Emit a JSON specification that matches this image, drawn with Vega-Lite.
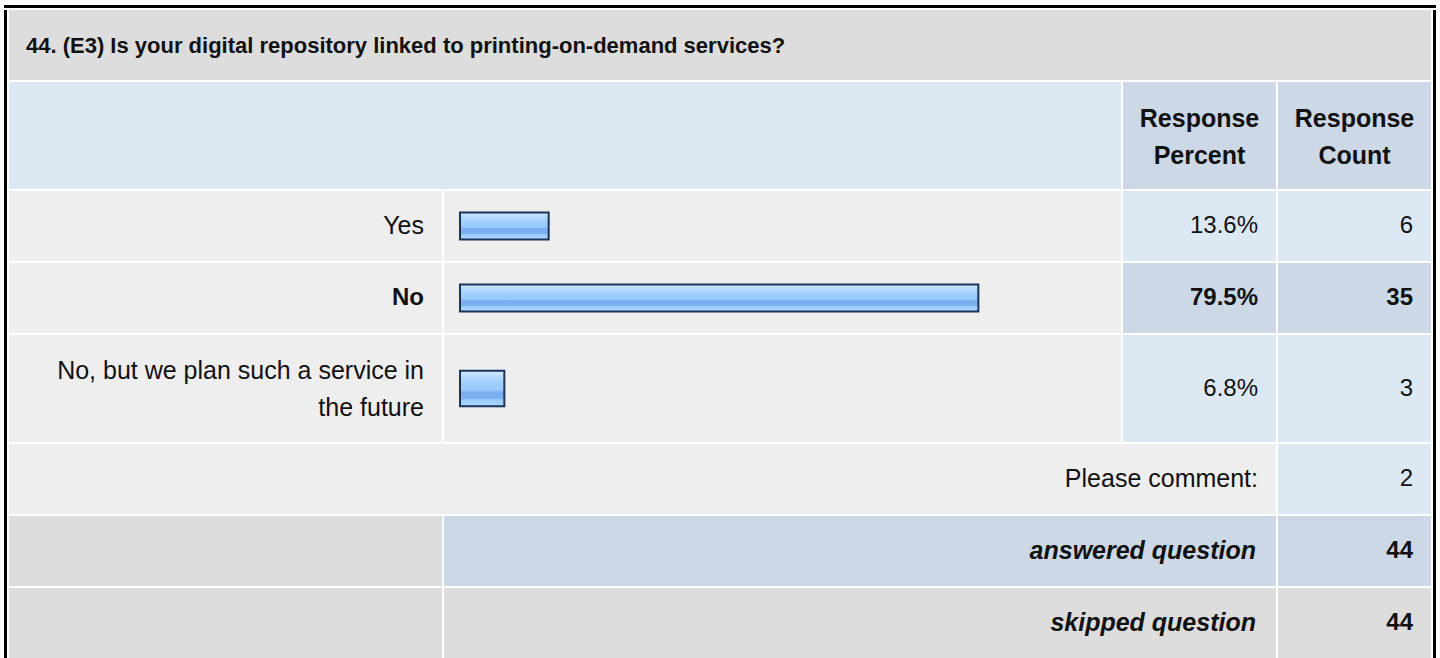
{
"$schema": "https://vega.github.io/schema/vega-lite/v6.json",
"background": "white",
"padding": {"left": 4, "top": 5, "right": 0, "bottom": 0},
"bounds": "flush",
"spacing": 2,
"config": {"view": {"stroke": null}, "concat": {"spacing": 2}, "text": {"font": "Liberation Sans", "fontSize": 24, "color": "#111111", "lineBreak": "\n", "lineHeight": 37}},
"datasets": {
 "question": [{"title": "44. (E3) Is your digital repository linked to printing-on-demand services?"}],
 "columns": [{"column": "Response\nPercent"}, {"column": "Response\nCount"}],
 "answers": [
  {"answer": "Yes", "share": 0.136, "count": 6},
  {"answer": "No", "share": 0.795, "count": 35},
  {"answer": "No, but we plan such a service in\nthe future", "share": 0.068, "count": 3}
 ],
 "summary": [
  {"item": "Please comment:", "count": 2},
  {"item": "answered question", "count": 44},
  {"item": "skipped question", "count": 44}
 ]
},
"vconcat": [
 {"width": 1432, "height": 3, "view": {"fill": "#000000"}, "data": {"values": [{}]}, "mark": {"type": "text", "fontSize": 1, "lineHeight": 1}, "encoding": {"text": {"value": ""}}},
 {"spacing": 2, "hconcat": [
  {"width": 3, "height": 648, "view": {"fill": "#000000"}, "data": {"values": [{}]}, "mark": {"type": "text", "fontSize": 1, "lineHeight": 1}, "encoding": {"text": {"value": ""}}},
  {"spacing": 2, "vconcat": [
   {"width": 1422, "height": 70, "view": {"fill": "#dddddd"}, "data": {"name": "question"},
    "mark": {"type": "text", "align": "left", "baseline": "middle", "dx": 17, "dy": 1, "fontWeight": "bold", "fontSize": 22},
    "encoding": {"x": {"value": 0}, "text": {"field": "title"}}},
   {"spacing": 2, "hconcat": [
    {"width": 1112, "height": 107, "view": {"fill": "#dde8f5"}, "data": {"values": [{}]}, "mark": {"type": "text", "fontSize": 1, "lineHeight": 1}, "encoding": {"text": {"value": ""}}},
    {"width": 153, "height": 107, "view": {"fill": "#ccd8e6"}, "data": {"name": "columns"}, "transform": [{"filter": "indexof(datum.column, 'Percent') >= 0"}],
     "mark": {"type": "text", "align": "center", "baseline": "middle", "dy": -17, "fontWeight": "bold", "fontSize": 25}, "encoding": {"text": {"field": "column"}}},
    {"width": 153, "height": 107, "view": {"fill": "#ccd8e6"}, "data": {"name": "columns"}, "transform": [{"filter": "indexof(datum.column, 'Count') >= 0"}],
     "mark": {"type": "text", "align": "center", "baseline": "middle", "dy": -17, "fontWeight": "bold", "fontSize": 25}, "encoding": {"text": {"field": "column"}}}
   ]},
   {"spacing": 2, "hconcat": [
    {"width": 433, "height": 70, "view": {"fill": "#eeeeee"}, "data": {"name": "answers"}, "transform": [{"filter": "datum.answer === 'Yes'"}],
     "mark": {"type": "text", "align": "right", "baseline": "middle", "dx": -18, "fontSize": 25}, "encoding": {"x": {"value": "width"}, "text": {"field": "answer"}}},
    {"width": 677, "height": 70, "view": {"fill": "#eeeeee"}, "data": {"name": "answers"}, "transform": [{"filter": "datum.answer === 'Yes'"}],
     "mark": {"type": "bar", "stroke": "#1b3358", "strokeWidth": 2, "fill": {"gradient": "linear", "x1": 0, "y1": 0, "x2": 0, "y2": 1, "stops": [{"offset": 0, "color": "#d4ebff"}, {"offset": 0.15, "color": "#b9dcff"}, {"offset": 0.35, "color": "#a0cffd"}, {"offset": 0.55, "color": "#98c9fb"}, {"offset": 0.6, "color": "#78aef0"}, {"offset": 0.78, "color": "#7cb2f1"}, {"offset": 0.82, "color": "#9ccdfc"}, {"offset": 1, "color": "#a8d4ff"}]}},
     "encoding": {"x": {"field": "share", "type": "quantitative", "scale": {"domain": [0, 1], "range": [16, 668]}, "axis": null}, "y": {"field": "answer", "type": "nominal", "axis": null, "scale": {"paddingInner": 0, "paddingOuter": 0.8}}}},
    {"width": 153, "height": 70, "view": {"fill": "#dde8f5"}, "data": {"name": "answers"}, "transform": [{"filter": "datum.answer === 'Yes'"}],
     "mark": {"type": "text", "align": "right", "baseline": "middle", "dx": -18}, "encoding": {"x": {"value": "width"}, "text": {"field": "share", "type": "quantitative", "format": ".1%"}}},
    {"width": 153, "height": 70, "view": {"fill": "#dde8f5"}, "data": {"name": "answers"}, "transform": [{"filter": "datum.answer === 'Yes'"}],
     "mark": {"type": "text", "align": "right", "baseline": "middle", "dx": -18}, "encoding": {"x": {"value": "width"}, "text": {"field": "count", "type": "quantitative"}}}
   ]},
   {"spacing": 2, "hconcat": [
    {"width": 433, "height": 70, "view": {"fill": "#eeeeee"}, "data": {"name": "answers"}, "transform": [{"filter": "datum.answer === 'No'"}],
     "mark": {"type": "text", "align": "right", "baseline": "middle", "dx": -18, "fontWeight": "bold"}, "encoding": {"x": {"value": "width"}, "text": {"field": "answer"}}},
    {"width": 677, "height": 70, "view": {"fill": "#eeeeee"}, "data": {"name": "answers"}, "transform": [{"filter": "datum.answer === 'No'"}],
     "mark": {"type": "bar", "stroke": "#1b3358", "strokeWidth": 2, "fill": {"gradient": "linear", "x1": 0, "y1": 0, "x2": 0, "y2": 1, "stops": [{"offset": 0, "color": "#d4ebff"}, {"offset": 0.15, "color": "#b9dcff"}, {"offset": 0.35, "color": "#a0cffd"}, {"offset": 0.55, "color": "#98c9fb"}, {"offset": 0.6, "color": "#78aef0"}, {"offset": 0.78, "color": "#7cb2f1"}, {"offset": 0.82, "color": "#9ccdfc"}, {"offset": 1, "color": "#a8d4ff"}]}},
     "encoding": {"x": {"field": "share", "type": "quantitative", "scale": {"domain": [0, 1], "range": [16, 668]}, "axis": null}, "y": {"field": "answer", "type": "nominal", "axis": null, "scale": {"paddingInner": 0, "paddingOuter": 0.8}}}},
    {"width": 153, "height": 70, "view": {"fill": "#ccd8e6"}, "data": {"name": "answers"}, "transform": [{"filter": "datum.answer === 'No'"}],
     "mark": {"type": "text", "align": "right", "baseline": "middle", "dx": -18, "fontWeight": "bold"}, "encoding": {"x": {"value": "width"}, "text": {"field": "share", "type": "quantitative", "format": ".1%"}}},
    {"width": 153, "height": 70, "view": {"fill": "#ccd8e6"}, "data": {"name": "answers"}, "transform": [{"filter": "datum.answer === 'No'"}],
     "mark": {"type": "text", "align": "right", "baseline": "middle", "dx": -18, "fontWeight": "bold"}, "encoding": {"x": {"value": "width"}, "text": {"field": "count", "type": "quantitative"}}}
   ]},
   {"spacing": 2, "hconcat": [
    {"width": 433, "height": 107, "view": {"fill": "#eeeeee"}, "data": {"name": "answers"}, "transform": [{"filter": "indexof(datum.answer, 'No, but') === 0"}],
     "mark": {"type": "text", "align": "right", "baseline": "middle", "dx": -18, "dy": -18, "fontSize": 25}, "encoding": {"x": {"value": "width"}, "text": {"field": "answer"}}},
    {"width": 677, "height": 107, "view": {"fill": "#eeeeee"}, "data": {"name": "answers"}, "transform": [{"filter": "indexof(datum.answer, 'No, but') === 0"}],
     "mark": {"type": "bar", "stroke": "#1b3358", "strokeWidth": 2, "fill": {"gradient": "linear", "x1": 0, "y1": 0, "x2": 0, "y2": 1, "stops": [{"offset": 0, "color": "#d4ebff"}, {"offset": 0.15, "color": "#b9dcff"}, {"offset": 0.35, "color": "#a0cffd"}, {"offset": 0.55, "color": "#98c9fb"}, {"offset": 0.6, "color": "#78aef0"}, {"offset": 0.78, "color": "#7cb2f1"}, {"offset": 0.82, "color": "#9ccdfc"}, {"offset": 1, "color": "#a8d4ff"}]}},
     "encoding": {"x": {"field": "share", "type": "quantitative", "scale": {"domain": [0, 1], "range": [16, 668]}, "axis": null}, "y": {"field": "answer", "type": "nominal", "axis": null, "scale": {"paddingInner": 0, "paddingOuter": 1.48}}}},
    {"width": 153, "height": 107, "view": {"fill": "#dde8f5"}, "data": {"name": "answers"}, "transform": [{"filter": "indexof(datum.answer, 'No, but') === 0"}],
     "mark": {"type": "text", "align": "right", "baseline": "middle", "dx": -18}, "encoding": {"x": {"value": "width"}, "text": {"field": "share", "type": "quantitative", "format": ".1%"}}},
    {"width": 153, "height": 107, "view": {"fill": "#dde8f5"}, "data": {"name": "answers"}, "transform": [{"filter": "indexof(datum.answer, 'No, but') === 0"}],
     "mark": {"type": "text", "align": "right", "baseline": "middle", "dx": -18}, "encoding": {"x": {"value": "width"}, "text": {"field": "count", "type": "quantitative"}}}
   ]},
   {"spacing": 2, "hconcat": [
    {"width": 1267, "height": 70, "view": {"fill": "#eeeeee"}, "data": {"name": "summary"}, "transform": [{"filter": "datum.item === 'Please comment:'"}],
     "mark": {"type": "text", "align": "right", "baseline": "middle", "dx": -18, "fontSize": 25}, "encoding": {"x": {"value": "width"}, "text": {"field": "item"}}},
    {"width": 153, "height": 70, "view": {"fill": "#dde8f5"}, "data": {"name": "summary"}, "transform": [{"filter": "datum.item === 'Please comment:'"}],
     "mark": {"type": "text", "align": "right", "baseline": "middle", "dx": -18}, "encoding": {"x": {"value": "width"}, "text": {"field": "count", "type": "quantitative"}}}
   ]},
   {"spacing": 2, "hconcat": [
    {"width": 433, "height": 70, "view": {"fill": "#dddddd"}, "data": {"values": [{}]}, "mark": {"type": "text", "fontSize": 1, "lineHeight": 1}, "encoding": {"text": {"value": ""}}},
    {"width": 832, "height": 70, "view": {"fill": "#ccd8e6"}, "data": {"name": "summary"}, "transform": [{"filter": "datum.item === 'answered question'"}],
     "mark": {"type": "text", "align": "right", "baseline": "middle", "dx": -20, "fontWeight": "bold", "fontStyle": "italic", "fontSize": 25}, "encoding": {"x": {"value": "width"}, "text": {"field": "item"}}},
    {"width": 153, "height": 70, "view": {"fill": "#ccd8e6"}, "data": {"name": "summary"}, "transform": [{"filter": "datum.item === 'answered question'"}],
     "mark": {"type": "text", "align": "right", "baseline": "middle", "dx": -18, "fontWeight": "bold"}, "encoding": {"x": {"value": "width"}, "text": {"field": "count", "type": "quantitative"}}}
   ]},
   {"spacing": 2, "hconcat": [
    {"width": 433, "height": 70, "view": {"fill": "#dddddd"}, "data": {"values": [{}]}, "mark": {"type": "text", "fontSize": 1, "lineHeight": 1}, "encoding": {"text": {"value": ""}}},
    {"width": 832, "height": 70, "view": {"fill": "#dddddd"}, "data": {"name": "summary"}, "transform": [{"filter": "datum.item === 'skipped question'"}],
     "mark": {"type": "text", "align": "right", "baseline": "middle", "dx": -20, "fontWeight": "bold", "fontStyle": "italic", "fontSize": 25}, "encoding": {"x": {"value": "width"}, "text": {"field": "item"}}},
    {"width": 153, "height": 70, "view": {"fill": "#dddddd"}, "data": {"name": "summary"}, "transform": [{"filter": "datum.item === 'skipped question'"}],
     "mark": {"type": "text", "align": "right", "baseline": "middle", "dx": -18, "fontWeight": "bold"}, "encoding": {"x": {"value": "width"}, "text": {"field": "count", "type": "quantitative"}}}
   ]}
  ]},
  {"width": 3, "height": 648, "view": {"fill": "#000000"}, "data": {"values": [{}]}, "mark": {"type": "text", "fontSize": 1, "lineHeight": 1}, "encoding": {"text": {"value": ""}}}
 ]}
]
}
